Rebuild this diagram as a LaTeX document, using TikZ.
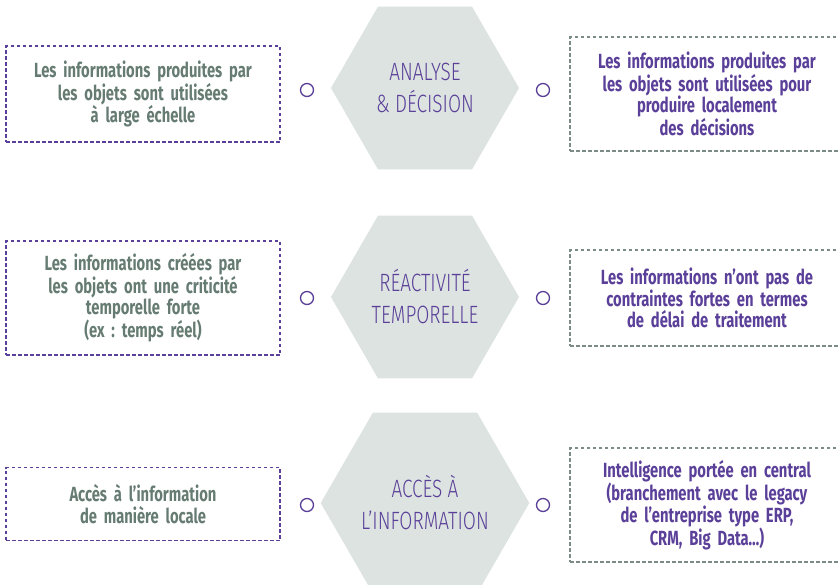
\documentclass[tikz,border=0pt]{standalone}
\usepackage{fontspec}
\setmainfont{Fira Sans}[FakeStretch=0.72]
\newfontfamily\hexfont{Fira Sans Light}[FakeStretch=0.76]
\usepackage{tikz}
\usetikzlibrary{shapes.geometric}
\usetikzlibrary{positioning}
\frenchspacing
\definecolor{purpleiot}{HTML}{5B4099}
\definecolor{sagetext}{HTML}{667C73}
\definecolor{hexfill}{HTML}{DCE3E0}
\definecolor{greyline}{HTML}{7B8C86}
\tikzstyle{hexa} = [regular polygon, regular polygon sides=6, minimum size=188pt,
    inner sep=0pt, fill=hexfill, text=purpleiot, align=center,
    font=\hexfont\fontsize{25}{32}\selectfont]
\tikzstyle{lbox} = [rectangle, draw=purpleiot, dash pattern=on 3.5pt off 2.5pt,
    line width=1.2pt, text=sagetext, text width=250pt, inner xsep=12pt, align=center,
    font=\bfseries\fontsize{20.5}{21.5}\selectfont, node distance=282pt]
\tikzstyle{rbox} = [lbox, draw=greyline, text=purpleiot]
\tikzstyle{knob} = [circle, draw=purpleiot, line width=1.3pt, fill=white,
    minimum size=13pt, inner sep=0pt, node distance=118pt]

\begin{document}
\begin{tikzpicture}[x=1pt,y=1pt]
    \useasboundingbox (0,0) rectangle (838,-584);
    % Place hexagons
    \node[hexa] (analyse) at (425,-88) {ANALYSE\\\& DÉCISION};
    \node[hexa] (reactivite) at (425,-297) {RÉACTIVITÉ\\TEMPORELLE};
    \node[hexa] (acces) at (425,-503) {ACCÈS À\\L’INFORMATION};
    % Place boxes
    \node[lbox, left of=analyse, yshift=-6pt, minimum height=96pt] (local1)
        {Les informations produites par\\les objets sont utilisées\\à large échelle};
    \node[rbox, right of=analyse, yshift=-6pt, minimum height=114pt] (central1)
        {Les informations produites par\\les objets sont utilisées pour\\produire localement\\des décisions};
    \node[lbox, left of=reactivite, yshift=-1pt, minimum height=114pt] (local2)
        {Les informations créées par\\les objets ont une criticité\\temporelle forte\\(ex : temps réel)};
    \node[rbox, right of=reactivite, yshift=-1pt, minimum height=96pt] (central2)
        {Les informations n’ont pas de\\contraintes fortes en termes\\de délai de traitement};
    \node[lbox, left of=acces, yshift=-1pt, minimum height=73pt] (local3)
        {Accès à l’information\\de manière locale};
    \node[rbox, right of=acces, yshift=-2pt, minimum height=114pt] (central3)
        {Intelligence portée en central\\(branchement avec le legacy\\de l’entreprise type ERP,\\CRM, Big Data…)};
    % Place knobs
    \node[knob, left of=analyse, yshift=-2pt] (knobl1) {};
    \node[knob, right of=analyse, yshift=-2pt] (knobr1) {};
    \node[knob, left of=reactivite, yshift=-1pt] (knobl2) {};
    \node[knob, right of=reactivite, yshift=-1pt] (knobr2) {};
    \node[knob, left of=acces, yshift=-2pt] (knobl3) {};
    \node[knob, right of=acces, yshift=-2pt] (knobr3) {};
\end{tikzpicture}
\end{document}
